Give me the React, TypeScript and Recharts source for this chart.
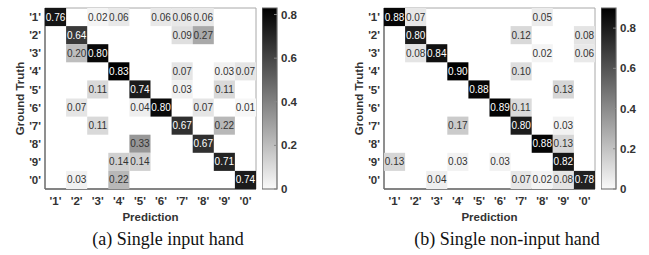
import React from 'react';
import { ScatterChart, Scatter, XAxis, YAxis, ReferenceArea, BarChart, Bar } from 'recharts';

const labels = ["'1'", "'2'", "'3'", "'4'", "'5'", "'6'", "'7'", "'8'", "'9'", "'0'"];
const positions = [1, 2, 3, 4, 5, 6, 7, 8, 9, 10];

// rows = ground truth, columns = prediction
const inputHand = [
  [0.76, 0, 0.02, 0.06, 0, 0.06, 0.06, 0.06, 0, 0],
  [0, 0.64, 0, 0, 0, 0, 0.09, 0.27, 0, 0],
  [0, 0.2, 0.8, 0, 0, 0, 0, 0, 0, 0],
  [0, 0, 0, 0.83, 0, 0, 0.07, 0, 0.03, 0.07],
  [0, 0, 0.11, 0, 0.74, 0, 0.03, 0, 0.11, 0],
  [0, 0.07, 0, 0, 0.04, 0.8, 0, 0.07, 0, 0.01],
  [0, 0, 0.11, 0, 0, 0, 0.67, 0, 0.22, 0],
  [0, 0, 0, 0, 0.33, 0, 0, 0.67, 0, 0],
  [0, 0, 0, 0.14, 0.14, 0, 0, 0, 0.71, 0],
  [0, 0.03, 0, 0.22, 0, 0, 0, 0, 0, 0.74],
];

const nonInputHand = [
  [0.88, 0.07, 0, 0, 0, 0, 0, 0.05, 0, 0],
  [0, 0.8, 0, 0, 0, 0, 0.12, 0, 0, 0.08],
  [0, 0.08, 0.84, 0, 0, 0, 0, 0.02, 0, 0.06],
  [0, 0, 0, 0.9, 0, 0, 0.1, 0, 0, 0],
  [0, 0, 0, 0, 0.88, 0, 0, 0, 0.13, 0],
  [0, 0, 0, 0, 0, 0.89, 0.11, 0, 0, 0],
  [0, 0, 0, 0.17, 0, 0, 0.8, 0, 0.03, 0],
  [0, 0, 0, 0, 0, 0, 0, 0.88, 0.13, 0],
  [0.13, 0, 0, 0.03, 0, 0.03, 0, 0, 0.82, 0],
  [0, 0, 0.04, 0, 0, 0, 0.07, 0.02, 0.08, 0.78],
];

const colorbarTicks = [0, 0.2, 0.4, 0.6, 0.8];

const SANS = 'Liberation Sans, Arial, sans-serif';
const CELL_W = 21.1;
const CELL_H = 18.1;

const tickStyle = { fontSize: 11.5, fontWeight: 'bold', fill: '#333', fontFamily: SANS };
const axisStroke = { stroke: '#6a6a6a', strokeWidth: 1.3 };

function Panel({ matrix, caption, left, id }: { matrix: number[][]; caption: string; left: number; id: string }) {
  const max = Math.max(...matrix.flat());
  const cells = matrix.flatMap((row, r) =>
    row.map((v, c) => ({ x: c + 1, y: r + 1, v })).filter((d) => d.v > 0)
  );
  const shade = (v: number) => {
    const g = Math.round(250 * (1 - v / max));
    return `rgb(${g},${g},${g})`;
  };

  const Cell = (props: any) => {
    const { cx, cy, payload } = props;
    const dark = payload.v / max > 0.5;
    return (
      <g>
        <rect x={cx - CELL_W / 2} y={cy - CELL_H / 2} width={CELL_W} height={CELL_H} fill={shade(payload.v)} />
        <text
          x={cx}
          y={cy}
          textAnchor="middle"
          dominantBaseline="central"
          fontSize={10}
          fontFamily={SANS}
          fill={dark ? '#fff' : '#333'}
        >
          {payload.v.toFixed(2)}
        </text>
      </g>
    );
  };

  return (
    <>
      <div style={{ position: 'absolute', left, top: 0 }}>
        <ScatterChart width={262} height={225} margin={{ top: 8, right: 6, bottom: 0, left: 0 }}>
          <Scatter data={cells} isAnimationActive={false} shape={Cell} />
          <ReferenceArea x1={0.5} x2={10.5} y1={0.5} y2={10.5} fill="none" stroke="#a8a8a8" ifOverflow="visible" />
          <XAxis
            type="number"
            dataKey="x"
            domain={[0.5, 10.5]}
            ticks={positions}
            interval={0}
            tickFormatter={(i) => labels[i - 1]}
            axisLine={axisStroke}
            tickLine={false}
            height={36}
            tick={tickStyle}
            label={{ value: 'Prediction', position: 'insideBottom', offset: 4, ...tickStyle }}
          />
          <YAxis
            type="number"
            dataKey="y"
            domain={[0.5, 10.5]}
            reversed
            ticks={positions}
            interval={0}
            tickFormatter={(i) => labels[i - 1]}
            axisLine={axisStroke}
            tickLine={false}
            tickSize={2}
            width={45}
            tick={tickStyle}
            label={{
              content: (p: any) => (
                <text
                  x={20}
                  y={p.viewBox.y + p.viewBox.height / 2}
                  transform={`rotate(-90 20 ${p.viewBox.y + p.viewBox.height / 2})`}
                  textAnchor="middle"
                  dominantBaseline="central"
                  {...tickStyle}
                >
                  Ground Truth
                </text>
              ),
            }}
          />
        </ScatterChart>
      </div>
      <div style={{ position: 'absolute', left: left + 262, top: 0 }}>
        <BarChart width={45} height={225} data={[{ v: max }]} margin={{ top: 8, right: 0, bottom: 36, left: 0 }} barCategoryGap={0}>
          <defs>
            <linearGradient id={id} x1="0" y1="0" x2="0" y2="1">
              <stop offset="0" stopColor="#000" />
              <stop offset="1" stopColor="#fafafa" />
            </linearGradient>
          </defs>
          <XAxis hide />
          <YAxis
            orientation="right"
            type="number"
            domain={[0, max]}
            ticks={colorbarTicks}
            interval={0}
            width={30}
            axisLine={false}
            tickSize={-3}
            tickMargin={7}
            tickLine={{ stroke: '#888' }}
            tick={tickStyle}
            tickFormatter={(v) => (v === 0 ? '0' : v.toFixed(1))}
          />
          <Bar dataKey="v" fill={`url(#${id})`} stroke="#666" strokeWidth={1.2} isAnimationActive={false} />
        </BarChart>
      </div>
      <svg style={{ position: 'absolute', left, top: 220 }} width={320} height={35}>
        <text x={168} y={25} textAnchor="middle" fontFamily="Liberation Serif, Times New Roman, serif" fontSize={18} fill="#111">
          {caption}
        </text>
      </svg>
    </>
  );
}

export default function App() {
  return (
    <div style={{ position: 'absolute', left: 0, top: 0, width: 649, height: 255, background: '#fff', overflow: 'hidden' }}>
      <Panel matrix={inputHand} caption="(a) Single input hand" left={0} id="cbA" />
      <Panel matrix={nonInputHand} caption="(b) Single non-input hand" left={339} id="cbB" />
    </div>
  );
}
